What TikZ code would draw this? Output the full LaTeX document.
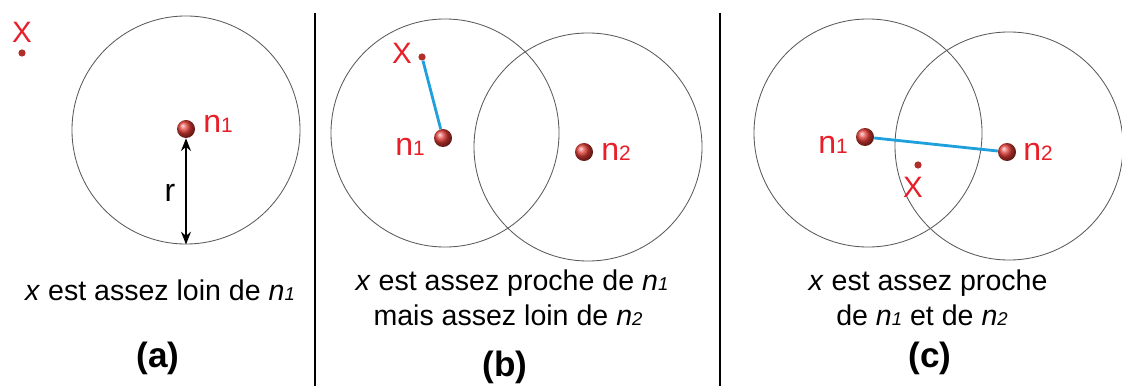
\documentclass[tikz,border=0pt]{standalone}
\usepackage{fontspec}
\setmainfont{Liberation Sans}
\usetikzlibrary{arrows.meta,positioning}
\definecolor{lblred}{RGB}{232,30,40}
\definecolor{dotred}{RGB}{222,58,52}
\definecolor{linkblue}{RGB}{30,160,220}
\newcommand{\lblfont}{\fontsize{22.8}{24}\selectfont}
\newcommand{\capfont}{\fontsize{20.3}{22.7}\selectfont}
\newcommand{\idx}[1]{\scalebox{0.65}{#1}}
\tikzset{
    zone/.style={circle, draw=black!65, line width=0.6pt, minimum size=5.7cm, inner sep=0pt},
    nd/.style={circle, ball color=dotred, minimum size=0.45cm, inner sep=0pt},
    xdot/.style={circle, fill=dotred!80!black, minimum size=0.18cm, inner sep=0pt},
    lbl/.style={text=lblred, font=\lblfont, inner sep=0pt},
    xlbl/.style={text=lblred, font=\fontsize{21}{23}\selectfont, inner sep=0pt},
    captext/.style={font=\capfont, align=center, inner sep=0pt},
    tag/.style={font=\fontsize{25}{28}\selectfont\bfseries, inner sep=0pt},
    link/.style={draw=linkblue, line width=2pt},
    sep/.style={line width=2pt}
}

\begin{document}
\begin{tikzpicture}[x=0.025cm, y=-0.025cm]
    \useasboundingbox (0,0) rectangle (1122,386);

    % Separators
    \coordinate (s1top) at (315,13);
    \coordinate (s1bot) at (315,386);
    \coordinate (s2top) at (720,13);
    \coordinate (s2bot) at (720,386);
    \draw[sep] (s1top) -- (s1bot);
    \draw[sep] (s2top) -- (s2bot);

    % Circles
    \foreach \n/\p in {acirc/{186,130}, bcirc1/{445,133}, bcirc2/{588,147},
                       ccirc1/{868,133}, ccirc2/{1009,146}} {
        \node[zone] (\n) at (\p) {};
    }

    % (a)
    \node[xdot] (ax) at (22,53) {};
    \node[xlbl] (axl) at (22,32) {X};
    \node[nd] (an1) at (186,129) {};
    \node[lbl, anchor=west] (an1l) at (203,124) {n\idx{1}};
    \draw[{Stealth[length=9pt,width=7pt]}-{Stealth[length=9pt,width=7pt]}, line width=1.6pt] (an1) -- (acirc.south);
    \node[font=\lblfont, inner sep=0pt] (ar) at (170,193) {r};
    \node[captext] (acap) at (160,290) {\textit{x} est assez loin de \textit{n}\idx{\textit{1}}};
    \node[tag] (atag) at (158,358) {(a)};

    % (b)
    \node[xdot] (bx) at (422,57) {};
    \node[xlbl] (bxl) at (402,53) {X};
    \node[nd] (bn1) at (443,138) {};
    \node[lbl, anchor=east] (bn1l) at (425,147) {n\idx{1}};
    \node[nd] (bn2) at (584,152) {};
    \node[lbl, anchor=west] (bn2l) at (601,152) {n\idx{2}};
    \draw[link] (bx) -- (bn1);
    \node[captext] (bcap1) at (512,283) {\textit{x} est assez proche de \textit{n}\idx{\textit{1}}};
    \node[captext] (bcap2) at (508,315) {mais assez loin de \textit{n}\idx{\textit{2}}};
    \node[tag] (btag) at (505,367) {(b)};

    % (c)
    \node[xdot] (cx) at (918,165) {};
    \node[xlbl] (cxl) at (913,187) {X};
    \node[nd] (cn1) at (865,137) {};
    \node[lbl, anchor=east] (cn1l) at (848,145) {n\idx{1}};
    \node[nd] (cn2) at (1007,152) {};
    \node[lbl, anchor=west] (cn2l) at (1023,152) {n\idx{2}};
    \draw[link] (cn1) -- (cn2);
    \node[captext] (ccap1) at (928,283) {\textit{x} est assez proche};
    \node[captext] (ccap2) at (922,315) {de \textit{n}\idx{\textit{1}} et de \textit{n}\idx{\textit{2}}};
    \node[tag] (ctag) at (930,358) {(c)};
\end{tikzpicture}
\end{document}
